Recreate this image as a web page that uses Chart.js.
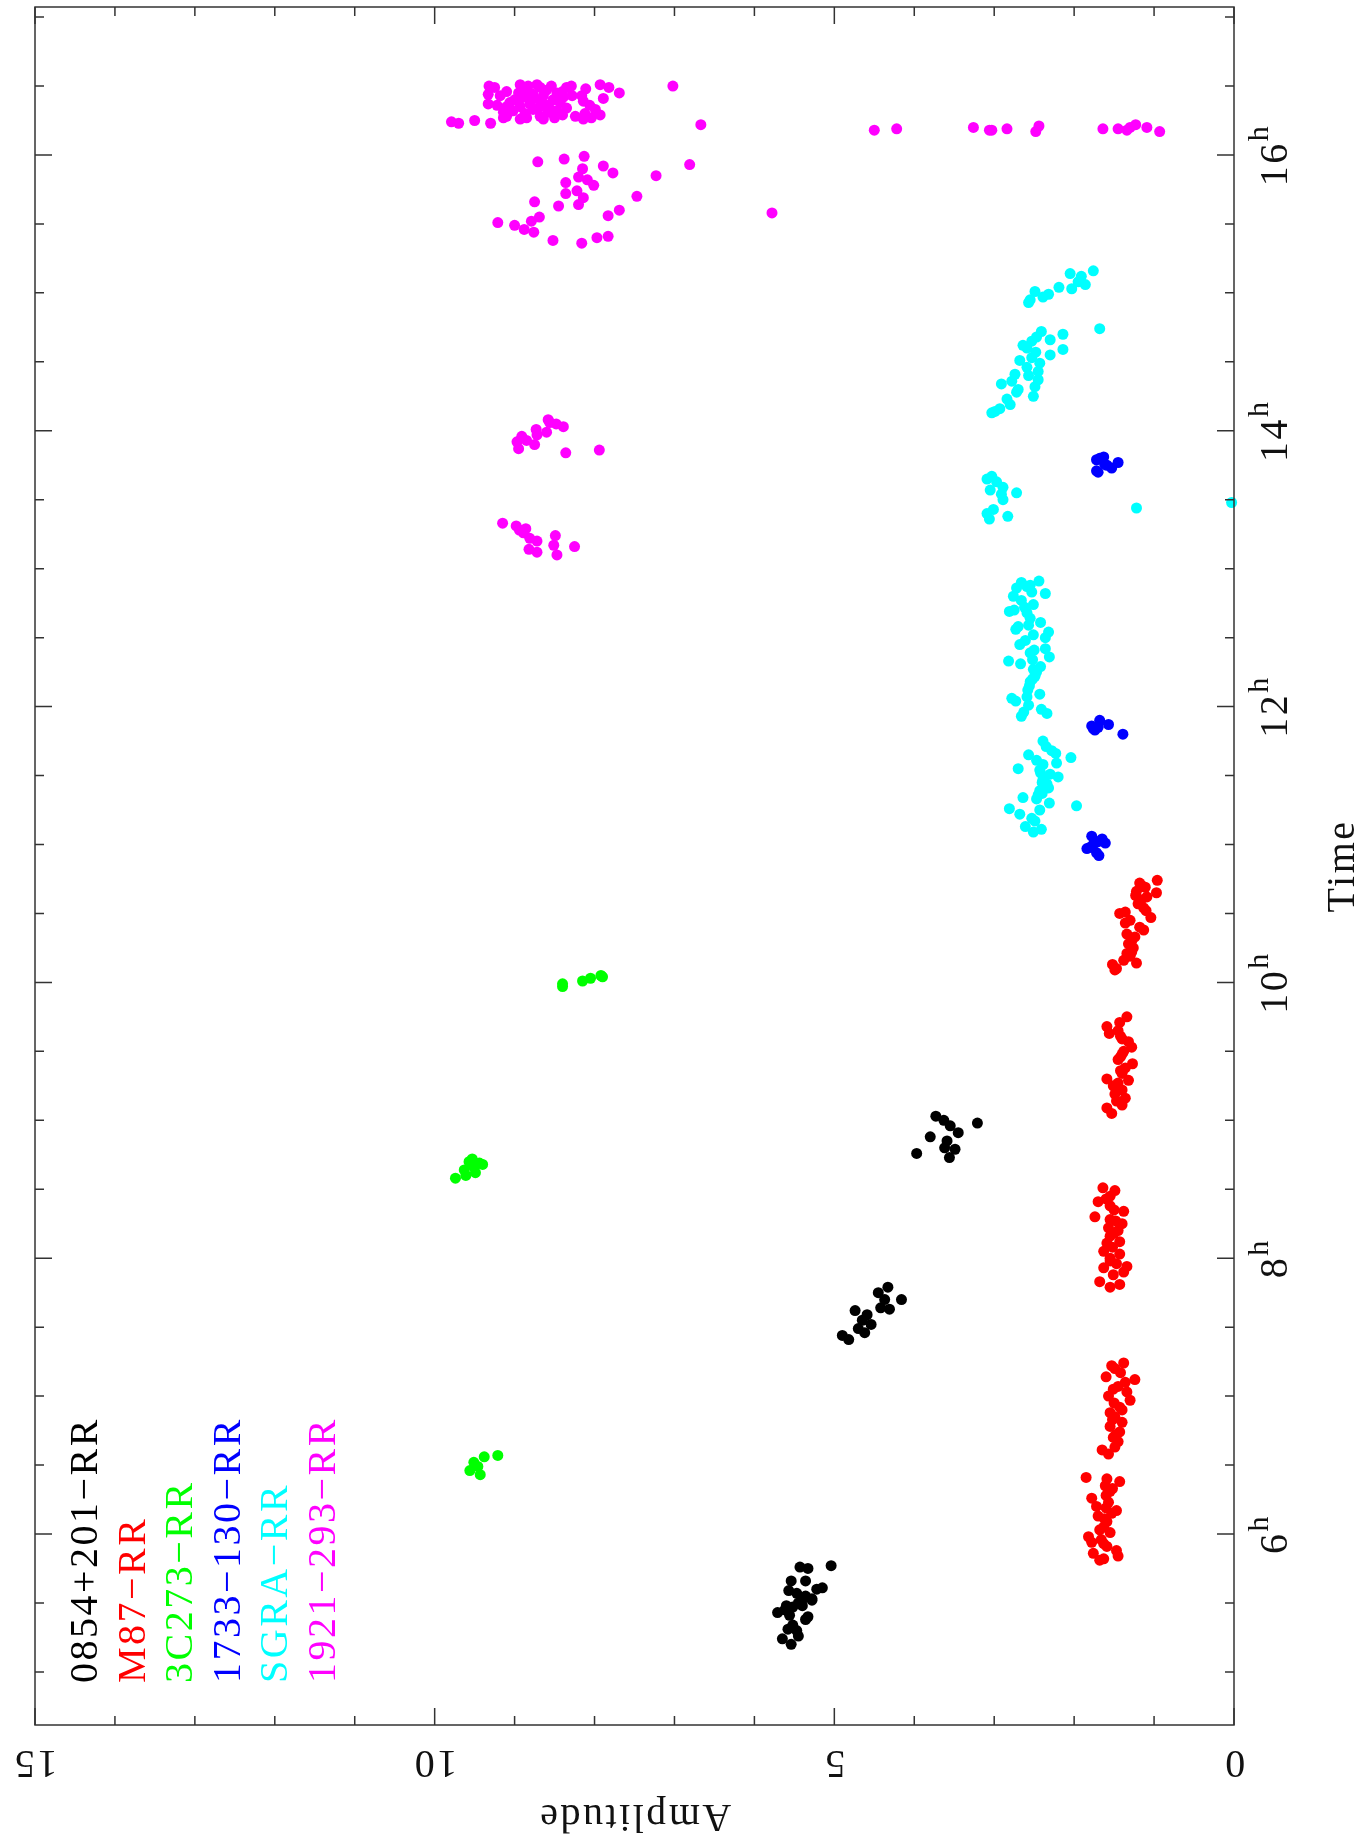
<!DOCTYPE html>
<html>
<head>
<meta charset="utf-8">
<script src="https://cdn.jsdelivr.net/npm/chart.js@4.4.1/dist/chart.umd.min.js"></script>
<style>
  html, body { margin: 0; padding: 0; background: #fff; }
  canvas { display: block; }
</style>
</head>
<body>
<canvas id="myChart" width="1367" height="1843"></canvas>
<script>
// each point is [time (hours), amplitude]
const pts0854 = [
  [5.77,5.04],[5.76,5.43],[5.75,5.33],[5.66,5.54],[5.66,5.36],[5.61,5.15],[5.59,5.57],[5.57,5.47],
  [5.53,5.28],[5.51,5.41],[5.48,5.60],[5.47,5.52],[5.43,5.71],[5.41,5.56],[5.38,5.36],[5.34,5.52],
  [5.31,5.58],[5.30,5.47],[5.26,5.45],[5.24,5.65],[5.20,5.54],[5.50,5.45],[5.55,5.36],[5.52,5.28],
  [5.45,5.62],[5.48,5.40],[5.60,5.22],[5.40,5.33],
  [7.79,4.33],[7.75,4.45],[7.70,4.37],[7.70,4.16],[7.64,4.42],[7.63,4.31],[7.62,4.74],[7.59,4.59],
  [7.55,4.65],[7.52,4.54],[7.49,4.70],[7.46,4.62],[7.44,4.90],[7.41,4.82],
  [9.03,3.73],[9.00,3.63],[8.96,3.55],[8.91,3.45],[8.98,3.21],[8.88,3.80],[8.85,3.59],[8.80,3.62],
  [8.79,3.49],[8.76,3.97],[8.73,3.56]
];
const ptsM87 = [
  [6.41,1.85],[6.40,1.59],[6.38,1.43],[6.35,1.61],[6.31,1.55],[6.26,1.78],[6.20,1.72],[6.23,1.57],
  [6.17,1.47],[6.13,1.70],[6.15,1.53],[6.09,1.59],[6.05,1.63],[6.01,1.55],[5.98,1.82],[5.94,1.78],
  [5.93,1.63],[5.91,1.59],[5.88,1.47],[5.86,1.76],[5.84,1.45],[5.81,1.68],[5.82,1.63],[6.28,1.60],
  [6.11,1.62],[6.03,1.68],[5.96,1.66],[6.19,1.60],[6.33,1.52],
  [7.24,1.38],[7.22,1.53],[7.20,1.49],[7.14,1.60],[7.12,1.24],[7.10,1.36],[7.05,1.51],[7.03,1.34],
  [7.00,1.57],[6.97,1.30],[6.92,1.43],[6.88,1.55],[6.85,1.49],[6.81,1.40],[6.78,1.55],[6.74,1.43],
  [6.70,1.51],[6.67,1.45],[6.61,1.65],[6.58,1.57],[6.63,1.49],[7.17,1.42],[7.07,1.45],[6.95,1.50],
  [6.83,1.52],[6.72,1.48],[6.90,1.40],
  [8.51,1.64],[8.49,1.49],[8.41,1.70],[8.38,1.55],[8.34,1.38],[8.30,1.74],[8.28,1.55],[8.25,1.40],
  [8.22,1.57],[8.20,1.45],[8.16,1.55],[8.11,1.59],[8.12,1.43],[8.05,1.63],[8.03,1.43],[8.00,1.55],
  [7.96,1.47],[7.94,1.34],[7.93,1.63],[7.90,1.38],[7.83,1.68],[7.79,1.55],[7.81,1.43],[7.88,1.51],
  [8.45,1.55],[8.35,1.50],[8.18,1.50],[8.08,1.52],[7.98,1.55],[8.27,1.48],[8.43,1.60],
  [9.75,1.34],[9.71,1.43],[9.68,1.59],[9.63,1.56],[9.65,1.45],[9.59,1.40],[9.57,1.32],[9.53,1.28],
  [9.48,1.40],[9.44,1.45],[9.41,1.27],[9.38,1.36],[9.34,1.40],[9.29,1.32],[9.30,1.59],[9.25,1.51],
  [9.22,1.40],[9.19,1.49],[9.16,1.36],[9.11,1.40],[9.09,1.59],[9.05,1.53],[9.14,1.47],[9.50,1.38],
  [9.36,1.42],[9.27,1.45],[9.61,1.42],[9.46,1.42],
  [10.74,0.96],[10.72,1.18],[10.69,1.11],[10.65,0.97],[10.63,1.23],[10.62,1.09],[10.57,1.20],[10.54,1.13],
  [10.52,1.10],[10.50,1.43],[10.51,1.36],[10.47,1.04],[10.43,1.36],[10.40,1.18],[10.38,1.13],[10.35,1.34],
  [10.33,1.24],[10.28,1.32],[10.25,1.26],[10.21,1.34],[10.19,1.30],[10.16,1.38],[10.14,1.22],[10.13,1.52],
  [10.10,1.47],[10.09,1.49],[10.70,1.15],[10.60,1.16],[10.45,1.30],[10.30,1.28],[10.22,1.28],[10.66,1.22]
];
const pts3C273 = [
  [6.57,9.21],[6.56,9.38],[6.52,9.51],[6.49,9.46],[6.46,9.56],[6.43,9.43],
  [8.72,9.53],[8.70,9.57],[8.69,9.44],[8.66,9.51],[8.64,9.63],[8.62,9.49],[8.58,9.74],[8.60,9.61],[8.68,9.40],
  [9.99,8.40],[9.97,8.40],[10.01,8.15],[10.03,8.05],[10.05,7.92],[10.04,7.90]
];
const pts1733 = [
  [11.06,1.78],[11.04,1.65],[11.01,1.61],[11.00,1.76],[10.97,1.84],[10.94,1.72],[10.92,1.69],[10.98,1.80],[11.02,1.70],
  [11.86,1.78],[11.83,1.74],[11.90,1.68],[11.87,1.57],[11.80,1.39],[11.84,1.76],[11.85,1.70],
  [13.79,1.72],[13.81,1.63],[13.80,1.68],[13.75,1.59],[13.73,1.53],[13.77,1.45],[13.70,1.70],[13.71,1.72],[13.76,1.62]
];
const ptsSGRA = [
  [11.75,2.39],[11.71,2.35],[11.68,2.28],[11.66,2.23],[11.65,2.57],[11.61,2.47],[11.59,2.22],[11.63,2.04],
  [11.58,2.39],[11.55,2.70],[11.54,2.43],[11.51,2.30],[11.49,2.20],[11.47,2.39],[11.44,2.34],[11.41,2.32],
  [11.39,2.43],[11.36,2.45],[11.33,2.47],[11.34,2.64],[11.30,2.31],[11.28,1.97],[11.26,2.81],[11.25,2.43],
  [11.22,2.68],[11.19,2.53],[11.17,2.49],[11.13,2.61],[11.11,2.41],[11.09,2.51],[11.45,2.40],[11.37,2.40],
  [11.42,2.36],[11.52,2.42],
  [12.90,2.66],[12.91,2.44],[12.87,2.59],[12.86,2.72],[12.83,2.53],[12.82,2.36],[12.80,2.76],[12.77,2.66],
  [12.74,2.51],[12.69,2.81],[12.70,2.75],[12.68,2.59],[12.64,2.55],[12.61,2.42],[12.59,2.57],[12.56,2.73],
  [12.58,2.70],[12.54,2.32],[12.52,2.51],[12.50,2.36],[12.48,2.61],[12.45,2.68],[12.41,2.50],[12.42,2.36],
  [12.36,2.31],[12.34,2.52],[12.33,2.82],[12.31,2.67],[12.29,2.42],[12.27,2.51],[12.22,2.49],[12.18,2.55],
  [12.15,2.56],[12.09,2.43],[12.07,2.59],[12.06,2.78],[12.04,2.73],[12.01,2.57],[11.98,2.41],[11.95,2.34],
  [11.93,2.66],[11.96,2.63],[12.20,2.52],[12.25,2.47],[12.12,2.58],[12.39,2.55],[12.88,2.55],[12.72,2.62],
  [13.65,3.09],[13.67,3.03],[13.63,2.97],[13.57,3.05],[13.59,2.89],[13.55,2.72],[13.54,2.91],[13.50,2.89],
  [13.40,3.09],[13.43,3.01],[13.36,3.06],[13.38,2.83],[13.44,1.22],[13.48,0.03],
  [14.72,2.41],[14.68,2.47],[14.65,2.53],[14.62,2.64],[14.60,2.59],[14.70,2.14],[14.66,2.30],[14.59,2.14],
  [14.55,2.30],[14.57,2.48],[14.53,2.53],[14.51,2.68],[14.49,2.43],[14.46,2.59],[14.43,2.45],[14.40,2.57],
  [14.41,2.74],[14.37,2.45],[14.36,2.78],[14.34,2.91],[14.32,2.49],[14.30,2.70],[14.28,2.72],[14.25,2.51],
  [14.23,2.84],[14.19,2.80],[14.16,2.93],[14.13,3.03],[14.14,2.99],[14.74,1.68],
  [15.16,1.76],[15.14,2.05],[15.12,1.91],[15.08,1.95],[15.06,1.86],[15.03,2.03],[15.04,2.19],[14.99,2.32],
  [14.97,2.39],[15.01,2.49],[14.95,2.55],[14.93,2.57]
];
const pts1921 = [
  [13.33,9.15],[13.31,8.98],[13.28,8.94],[13.29,8.86],[13.26,8.89],[13.22,8.81],[13.20,8.72],[13.14,8.82],
  [13.12,8.72],[13.24,8.49],[13.17,8.51],[13.10,8.47],[13.16,8.25],
  [14.08,8.58],[14.06,8.56],[14.05,8.48],[14.03,8.39],[13.99,8.60],[14.01,8.73],[13.97,8.72],[13.96,8.91],
  [13.93,8.85],[13.92,8.97],[13.87,8.95],[13.90,8.75],[13.84,8.36],[13.86,7.94],
  [15.95,8.71],[15.97,8.38],[15.99,8.13],[15.90,8.15],[15.92,7.89],[15.87,7.77],[15.85,7.23],[15.93,6.81],
  [15.84,8.20],[15.82,8.09],[15.80,8.36],[15.78,8.01],[15.72,8.36],[15.74,8.22],[15.69,8.14],[15.70,7.47],
  [15.66,8.75],[15.63,8.45],[15.64,8.20],[15.56,7.83],[15.60,7.69],[15.51,9.21],[15.49,9.00],[15.46,8.88],
  [15.52,8.79],[15.55,8.69],[15.44,8.76],[15.38,8.52],[15.36,8.16],[15.40,7.97],[15.41,7.83],[15.58,5.78],
  [16.18,4.50],[16.19,4.22],[16.20,3.26],[16.18,3.06],[16.18,3.03],[16.19,2.84],[16.17,2.48],[16.21,2.44],
  [16.19,1.64],[16.19,1.45],[16.18,1.34],[16.20,1.30],[16.22,1.23],[16.20,1.09],[16.17,0.93],
  [16.50,9.32],[16.49,9.25],[16.51,8.93],[16.50,8.83],[16.51,8.72],[16.49,8.68],[16.50,8.54],[16.49,8.35],
  [16.50,8.29],[16.48,8.11],[16.51,7.93],[16.49,7.82],[16.45,7.69],[16.50,7.02],
  [16.44,9.33],[16.43,9.18],[16.45,8.95],[16.42,8.87],[16.44,8.77],[16.43,8.64],[16.45,8.47],[16.42,8.39],
  [16.43,8.16],[16.41,7.89],
  [16.37,9.33],[16.36,9.22],[16.38,9.06],[16.35,8.93],[16.37,8.81],[16.39,8.68],[16.36,8.60],[16.38,8.43],
  [16.39,8.14],[16.36,8.06],
  [16.31,9.14],[16.32,9.02],[16.30,8.87],[16.33,8.77],[16.31,8.58],[16.32,8.47],[16.30,8.12],[16.33,7.99],
  [16.27,9.14],[16.28,9.10],[16.26,8.93],[16.27,8.85],[16.28,8.68],[16.26,8.64],[16.27,8.50],[16.28,8.24],
  [16.26,8.14],[16.27,8.04],[16.29,7.93],
  [16.24,9.79],[16.23,9.70],[16.25,9.50],[16.23,9.30],[16.22,6.67],
  [16.40,9.00],[16.34,8.70],[16.47,8.60],[16.40,8.52],[16.34,8.35],[16.46,9.10],
  [16.41,8.75],[16.47,8.85],[16.35,9.10],[16.43,8.28],[16.29,8.40],[16.39,8.95],[16.33,8.55],[16.46,8.40]
];

const seriesNames = ['0854+201\u2212RR', 'M87\u2212RR', '3C273\u2212RR', '1733\u2212130\u2212RR', 'SGRA\u2212RR', '1921\u2212293\u2212RR'];
const seriesData = [pts0854, ptsM87, pts3C273, pts1733, ptsSGRA, pts1921];
const seriesColors = ['#000000', '#ff0000', '#00ff00', '#0000ff', '#00ffff', '#ff00ff'];

const ampTickLabels = [0, 5, 10, 15];
const timeTickLabels = [6, 8, 10, 12, 14, 16];

const FONT = '"Liberation Serif", "DejaVu Serif", serif';

// frame, inside ticks and all (rotated) text, PGPLOT style
const pgplotAxes = {
    id: 'pgplotAxes',
    afterDraw(chart) {
        const c = chart.ctx;
        const a = chart.chartArea;
        const xs = chart.scales.x;
        const ys = chart.scales.y;
        c.save();
        c.strokeStyle = '#333';
        c.lineWidth = 1.5;
        c.strokeRect(a.left, a.top, a.right - a.left, a.bottom - a.top);

        c.beginPath();
        for (let v = 0; v <= 15; v++) {
            const px = xs.getPixelForValue(v);
            const len = v % 5 === 0 ? 17 : 9;
            c.moveTo(px, a.bottom); c.lineTo(px, a.bottom - len);
            c.moveTo(px, a.top); c.lineTo(px, a.top + len);
        }
        for (let v = 5; v <= 17; v += 0.5) {
            const py = ys.getPixelForValue(v);
            const len = v % 2 === 0 ? 17 : 9;
            c.moveTo(a.right, py); c.lineTo(a.right - len, py);
            c.moveTo(a.left, py); c.lineTo(a.left + len, py);
        }
        c.stroke();

        c.fillStyle = '#111';
        c.letterSpacing = '2.5px';

        // amplitude labels, upside down
        c.font = '40px ' + FONT;
        c.textAlign = 'center';
        c.textBaseline = 'middle';
        ampTickLabels.forEach(v => {
            c.save();
            c.translate(xs.getPixelForValue(v), 1761);
            c.rotate(Math.PI);
            c.fillText(String(v), 0, 0);
            c.restore();
        });
        c.save();
        c.translate((a.left + a.right) / 2, 1815);
        c.rotate(Math.PI);
        c.fillText('Amplitude', 0, 0);
        c.restore();

        // time labels with superscript h, reading upwards
        c.textBaseline = 'alphabetic';
        c.textAlign = 'left';
        timeTickLabels.forEach(v => {
            const py = ys.getPixelForValue(v);
            c.font = '40px ' + FONT;
            const wd = c.measureText(String(v)).width;
            c.font = '30px ' + FONT;
            const wh = c.measureText('h').width;
            const start = -(wd + wh) / 2;
            c.save();
            c.translate(1287, py);
            c.rotate(-Math.PI / 2);
            c.font = '40px ' + FONT;
            c.fillText(String(v), start, 0);
            c.font = '30px ' + FONT;
            c.fillText('h', start + wd, -19);
            c.restore();
        });

        c.font = '40px ' + FONT;
        c.textAlign = 'center';
        c.save();
        c.translate(1354, (a.top + a.bottom) / 2);
        c.rotate(-Math.PI / 2);
        c.fillText('Time', 0, 0);
        c.restore();

        // legend
        c.textAlign = 'left';
        seriesNames.forEach((name, i) => {
            c.save();
            c.fillStyle = seriesColors[i];
            c.translate(97 + 47.6 * i, 1683);
            c.rotate(-Math.PI / 2);
            c.fillText(name, 0, 0);
            c.restore();
        });
        c.restore();
    }
};

const ctx = document.getElementById('myChart');

const chart1 = new Chart(ctx, {
    type: 'scatter',
    data: {
        datasets: seriesData.map((pts, i) => ({
            label: seriesNames[i],
            data: pts.map(p => ({ x: p[1], y: p[0] })),
            backgroundColor: seriesColors[i],
            borderColor: seriesColors[i],
            pointRadius: 5.5,
            pointBorderWidth: 0,
            pointHoverRadius: 5.5,
            clip: false,
        })),
    },
    options: {
        responsive: false,
        animation: false,
        devicePixelRatio: 1,
        layout: {
            padding: { left: 35, right: 133, top: 7, bottom: 118 }
        },
        plugins: {
            legend: { display: false },
            tooltip: { enabled: false },
        },
        scales: {
            x: { type: 'linear', min: 0, max: 15, reverse: true, display: false },
            y: { type: 'linear', min: 4.615, max: 17.073, display: false },
        }
    },
    plugins: [pgplotAxes]
});
</script>
</body>
</html>
